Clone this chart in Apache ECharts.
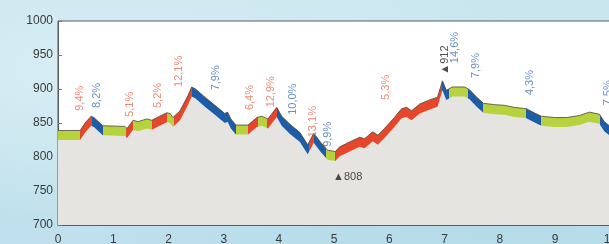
<!DOCTYPE html>
<html>
<head>
<meta charset="utf-8">
<script src="https://cdn.jsdelivr.net/npm/echarts@6/dist/echarts.min.js"></script>
<style>
  html, body { margin: 0; padding: 0; }
  body {
    width: 609px; height: 244px; overflow: hidden;
    background: radial-gradient(ellipse at 20% 30%, #d9eef4 0%, rgba(217,238,244,0) 60%),
                radial-gradient(ellipse at 80% 90%, #b4dbe8 0%, rgba(180,219,232,0) 60%),
                linear-gradient(180deg, #c9e6ef 0%, #bfe0ec 100%);
  }
  #main { width: 609px; height: 244px; }
</style>
</head>
<body>
<div id="main"></div>
<script>
// profile: distance (km) / elevation (m)
var kmPts = [0.00, 0.40, 0.49, 0.60, 0.65, 0.81, 1.21, 1.25, 1.36, 1.45, 1.61, 1.70, 1.84, 1.97, 2.03, 2.08,
  2.21, 2.35, 2.42, 2.49, 2.66, 2.84, 3.02, 3.07, 3.13, 3.22, 3.44, 3.60, 3.69, 3.80, 3.96, 4.05, 4.20,
  4.38, 4.52, 4.63, 4.75, 4.88, 5.02, 5.10, 5.28, 5.46, 5.55, 5.70, 5.79, 5.91, 6.09, 6.22, 6.31, 6.40,
  6.55, 6.73, 6.87, 6.96, 7.03, 7.14, 7.36, 7.45, 7.58, 7.70, 7.90, 8.08, 8.26, 8.48, 8.62, 8.75, 8.99,
  9.20, 9.44, 9.62, 9.80, 9.89, 10.07, 10.5];
var elevPts = [839, 839, 850, 860, 858, 846, 845, 842, 854, 852, 856, 854, 860, 865, 864, 858,
  868, 890, 903, 900, 888, 876, 864, 866, 856, 847, 847, 858, 860, 856, 873, 860, 848,
  836, 818, 835, 822, 810, 808, 815, 822, 829, 827, 837, 832, 842, 858, 871, 873, 868,
  878, 884, 888, 912, 898, 903, 903, 899, 888, 879, 877, 876, 873, 871, 865, 860, 858,
  858, 861, 866, 863, 852, 840, 815];

// coloured sections: start km and kind (r = climb, b = descent, g = flat)
var segStart = [0, 0.40, 0.62, 0.81, 1.24, 1.36, 1.70, 1.97, 2.10, 2.42, 3.22, 3.44, 3.62, 3.78, 3.96,
  4.54, 4.63, 4.86, 5.02, 6.96, 7.07, 7.43, 7.70, 8.48, 8.75, 9.82];
var segKind = ['g', 'r', 'b', 'g', 'r', 'g', 'r', 'g', 'r', 'b', 'g', 'r', 'g', 'r', 'b',
  'r', 'b', 'g', 'r', 'b', 'g', 'b', 'g', 'b', 'g', 'b'];

// gradient labels
var pctText = ['9,4%', '8,2%', '5,1%', '5,2%', '12,1%', '7,9%', '6,4%', '12,9%', '10,0%', '13,1%', '9,9%',
  '5,3%', '14,6%', '7,9%', '4,3%', '7,5%'];
var pctKm = [0.40, 0.70, 1.30, 1.81, 2.19, 2.86, 3.47, 3.85, 4.25, 4.61, 4.88, 5.93, 7.18, 7.56, 8.54, 9.95];
var pctElev = [868, 872, 859, 872, 903, 898, 869, 873, 862, 829, 815, 884, 938, 916, 891, 876];
var pctKind = ['r', 'b', 'r', 'r', 'r', 'b', 'r', 'r', 'b', 'r', 'b', 'r', 'b', 'b', 'b', 'b'];

var yTicks = [700, 750, 800, 850, 900, 950, 1000];

var bandColor = { r: '#e8462b', b: '#1d5ca6', g: '#b6d23c' };
var textColor = { r: '#e66d52', b: '#4272b8' };
var BAND = 14;

var chart = echarts.init(document.getElementById('main'));

var bandData = kmPts.map(function (k, i) { return [k, elevPts[i]]; });
var baseData = kmPts.map(function (k, i) { return [k, elevPts[i] - BAND]; });

var pieces = segStart.map(function (s, i) {
  var p = { gte: s, color: bandColor[segKind[i]] };
  if (i < segStart.length - 1) p.lt = segStart[i + 1];
  return p;
});

var pctData = pctText.map(function (t, i) {
  return {
    value: [pctKm[i], pctElev[i]],
    label: { formatter: t, color: textColor[pctKind[i]] }
  };
});

var fontFam = '"Liberation Sans", Arial, sans-serif';

var option = {
  animation: false,
  grid: {
    left: 58, top: 21, width: 580, height: 204,
    outerBoundsMode: 'none',
    show: true, backgroundColor: '#ffffff', borderColor: '#5a5a5a', borderWidth: 1
  },
  xAxis: {
    type: 'value', min: 0, max: 10.5, interval: 1,
    axisLine: { show: true, lineStyle: { color: '#5a5a5a' } },
    axisTick: { show: true, inside: true, length: 4, lineStyle: { color: '#777' } },
    axisLabel: { color: '#3a3a3a', fontSize: 12, fontFamily: fontFam, margin: 9, showMaxLabel: false },
    splitLine: { show: false }
  },
  yAxis: {
    type: 'value', min: yTicks[0], max: yTicks[yTicks.length - 1], interval: 50,
    axisLine: { show: true, lineStyle: { color: '#5a5a5a' } },
    axisTick: { show: true, inside: true, length: 4, lineStyle: { color: '#777' } },
    axisLabel: {
      color: '#3a3a3a', fontSize: 12, fontFamily: fontFam, margin: 5,
      formatter: function (v) { return String(v); }
    },
    splitLine: { show: false }
  },
  visualMap: {
    show: false, type: 'piecewise', seriesIndex: 0, dimension: 0,
    pieces: pieces
  },
  series: [
    {
      type: 'line', data: bandData, symbol: 'none',
      lineStyle: { color: '#4a4535', width: 0.8 },
      areaStyle: { opacity: 1 },
      z: 2
    },
    {
      type: 'line', data: baseData, symbol: 'none',
      lineStyle: { width: 0 },
      areaStyle: { color: '#e6e4e1', opacity: 1 },
      z: 3
    },
    {
      type: 'scatter', data: pctData, symbolSize: 0, z: 5,
      label: {
        show: true, rotate: 90, position: 'inside', align: 'left', verticalAlign: 'middle',
        fontSize: 11, fontFamily: fontFam
      }
    },
    {
      type: 'scatter', symbolSize: 0, z: 5,
      data: [
        { value: [7.00, 921], label: { formatter: '▲912', rotate: 90, align: 'left', verticalAlign: 'middle' } },
        { value: [4.98, 771], label: { formatter: '▲808', align: 'left', verticalAlign: 'middle' } }
      ],
      label: {
        show: true, position: 'inside', color: '#222', fontSize: 11, fontFamily: fontFam
      }
    }
  ]
};

chart.setOption(option);
</script>
</body>
</html>
